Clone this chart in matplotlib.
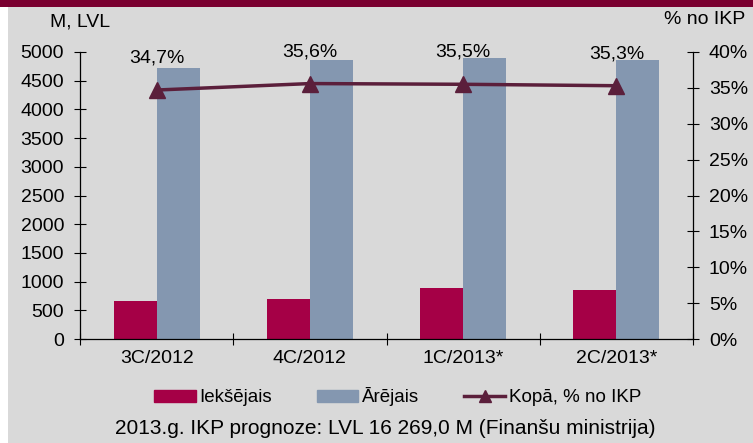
import matplotlib
matplotlib.use('Agg')
import matplotlib.pyplot as plt
from matplotlib.patches import Rectangle, Patch
from matplotlib.lines import Line2D
import numpy as np

plt.rcParams['font.family'] = ['Liberation Sans', 'DejaVu Sans']

# data
categories = ['3C/2012', '4C/2012', '1C/2013*', '2C/2013*']
iekshejais = [662, 697, 889, 854]
arejais = [4721, 4855, 4890, 4855]
kopa_pct = [34.7, 35.6, 35.5, 35.3]
kopa_labels = ['34,7%', '35,6%', '35,5%', '35,3%']

RED = '#a50046'
BLUE = '#8497b0'
LINE = '#5b1f3b'
BG = '#d9d9d9'
BAND = '#7a0030'
FS = 14

W, H = 753, 443
fig = plt.figure(figsize=(W / 100, H / 100), dpi=100)
fig.patch.set_facecolor('white')

# slide background + top band
fig.patches.append(Rectangle((8 / W, 0), 1, 1 - 7 / H, transform=fig.transFigure,
                             facecolor=BG, edgecolor='none', zorder=-5))
fig.patches.append(Rectangle((0, 1 - 7 / H), 1, 7 / H, transform=fig.transFigure,
                             facecolor=BAND, edgecolor='none', zorder=-5))

left, right, bottom, top = 80 / W, 693 / W, 1 - 339 / H, 1 - 52 / H
ax = fig.add_axes([left, bottom, right - left, top - bottom])
ax.set_facecolor('none')

x = np.arange(len(categories))
bw = 0.28
ax.bar(x - bw / 2, iekshejais, bw, color=RED, zorder=2)
ax.bar(x + bw / 2, arejais, bw, color=BLUE, zorder=2)

ax.set_xlim(-0.5, len(categories) - 0.5)
ax.set_ylim(0, 5000)
ax.set_yticks(np.arange(0, 5001, 500))
ax.set_xticks(x)
ax.set_xticklabels(categories)
ax.set_xticks(np.arange(-0.5, len(categories), 1), minor=True)

for s in ['top', 'right']:
    ax.spines[s].set_visible(False)
for s in ['left', 'bottom']:
    ax.spines[s].set_color('black')
    ax.spines[s].set_linewidth(0.9)

ax.tick_params(axis='y', direction='inout', length=9, width=0.8, labelsize=FS, pad=7)
ax.tick_params(axis='x', which='major', length=0, labelsize=FS, pad=8)
ax.tick_params(axis='x', which='minor', direction='inout', length=9, width=0.8)

ax2 = ax.twinx()
ax2.set_ylim(0, 40)
ax2.set_yticks(np.arange(0, 41, 5))
ax2.set_yticklabels([f'{v}%' for v in range(0, 41, 5)])
for s in ['top', 'left', 'bottom']:
    ax2.spines[s].set_visible(False)
ax2.spines['right'].set_linewidth(0.9)
ax2.tick_params(axis='y', direction='inout', length=9, width=0.8, labelsize=FS, pad=7)

ax2.plot(x, kopa_pct, color=LINE, lw=2.5, marker='^', markersize=12, zorder=3)
for xi, v, lab in zip(x, kopa_pct, kopa_labels):
    ax2.annotate(lab, (xi, v), xytext=(0, 23), textcoords='offset points',
                 ha='center', va='center', fontsize=FS)

fig.text(50 / W, 1 - 22 / H, 'M, LVL', fontsize=FS, ha='left', va='center')
fig.text(745 / W, 1 - 20 / H, '% no IKP', fontsize=FS, ha='right', va='center')

handles = [Patch(color=RED, label='Iekšējais'),
           Patch(color=BLUE, label='Ārējais'),
           Line2D([], [], color=LINE, lw=2.5, marker='^', markersize=8,
                  label='Kopā, % no IKP')]
fig.legend(handles=handles, loc='center', bbox_to_anchor=(398 / W, 1 - 397 / H),
           ncol=3, frameon=False, fontsize=13.5, handlelength=2.2,
           handleheight=0.6, handletextpad=0.2, columnspacing=2.4)

fig.text(385 / W, 1 - 428 / H, '2013.g. IKP prognoze: LVL 16 269,0 M (Finanšu ministrija)',
         fontsize=15, ha='center', va='center')

fig.savefig('out.png', dpi=100, facecolor=fig.get_facecolor())
